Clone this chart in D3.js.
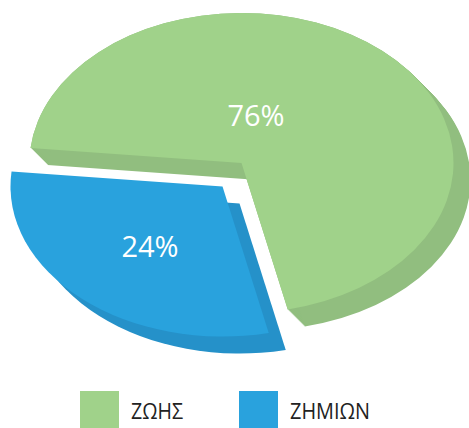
<!DOCTYPE html>
<html><head><meta charset="utf-8">
<script src="https://cdn.jsdelivr.net/npm/d3@7"></script>
<style>html,body{margin:0;padding:0;background:#fff}svg{display:block}</style>
</head><body><script>
const categories = ["ΖΗΜΙΩΝ", "ΖΩΗΣ"];
const values = [24, 76];
const legendOrder = ["ΖΩΗΣ", "ΖΗΜΙΩΝ"];
const faceColors = {"ΖΩΗΣ": "#a0d28a", "ΖΗΜΙΩΝ": "#29a2dd"};
const wallColors = {"ΖΩΗΣ": "#91be7f", "ΖΗΜΙΩΝ": "#2591c9"};

const W = 469, H = 428, rx = 212, ry = 150;
const svg = d3.select("body").append("svg").attr("width", W).attr("height", H);

// Perspective of the tilted pie: pie angle -> drawn angle (degrees clockwise from 3 o'clock)
const TAU = 2 * Math.PI;
const tilt = d3.scaleLinear().domain([0, 0.24 * TAU, TAU]).range([77.4, 185.7, 437.4]);
const pie = d3.pie().value((d, i) => values[i]).sort(null);
const slices = pie(categories);
const arc = d3.arc().innerRadius(0).outerRadius(rx)
  .startAngle(d => (tilt(d.startAngle) + 90) * Math.PI / 180)
  .endAngle(d => (tilt(d.endAngle) + 90) * Math.PI / 180);

const placement = {
  "ΖΩΗΣ":   {cx: 241.5, cy: 163, lx: 256, ly: 126, depth: d3.range(0, 18)},
  "ΖΗΜΙΩΝ": {cx: 222.5, cy: 186.5, lx: 150, ly: 257, depth: [17]}
};

slices.slice().reverse().forEach(s => {
  const name = s.data, p = placement[name];
  const g = svg.append("g");
  g.selectAll("path.wall").data(p.depth).join("path").attr("class", "wall")
    .attr("d", arc(s))
    .attr("fill", wallColors[name])
    .attr("transform", t => `translate(${p.cx + t},${p.cy + t}) scale(1,${ry / rx})`);
  g.append("path").attr("d", arc(s)).attr("fill", faceColors[name])
    .attr("transform", `translate(${p.cx},${p.cy}) scale(1,${ry / rx})`);
  g.append("text").attr("x", p.lx).attr("y", p.ly).attr("text-anchor", "middle")
    .attr("font-family", "'Open Sans'").attr("font-size", 29).attr("fill", "#fff")
    .text(s.value + "%");
});

const legendX = d3.scalePoint().domain(legendOrder).range([80, 239]);
const lg = svg.selectAll("g.legend").data(legendOrder).join("g").attr("class", "legend")
  .attr("transform", d => `translate(${legendX(d)},391)`);
lg.append("rect").attr("width", 39).attr("height", 37).attr("fill", d => faceColors[d]);
lg.append("text").attr("x", 51).attr("y", 28)
  .attr("font-family", "'Open Sans'").attr("font-size", 21).attr("fill", "#222")
  .attr("textLength", d => d === "ΖΩΗΣ" ? 52 : 80).attr("lengthAdjust", "spacingAndGlyphs")
  .text(d => d);
</script></body></html>
